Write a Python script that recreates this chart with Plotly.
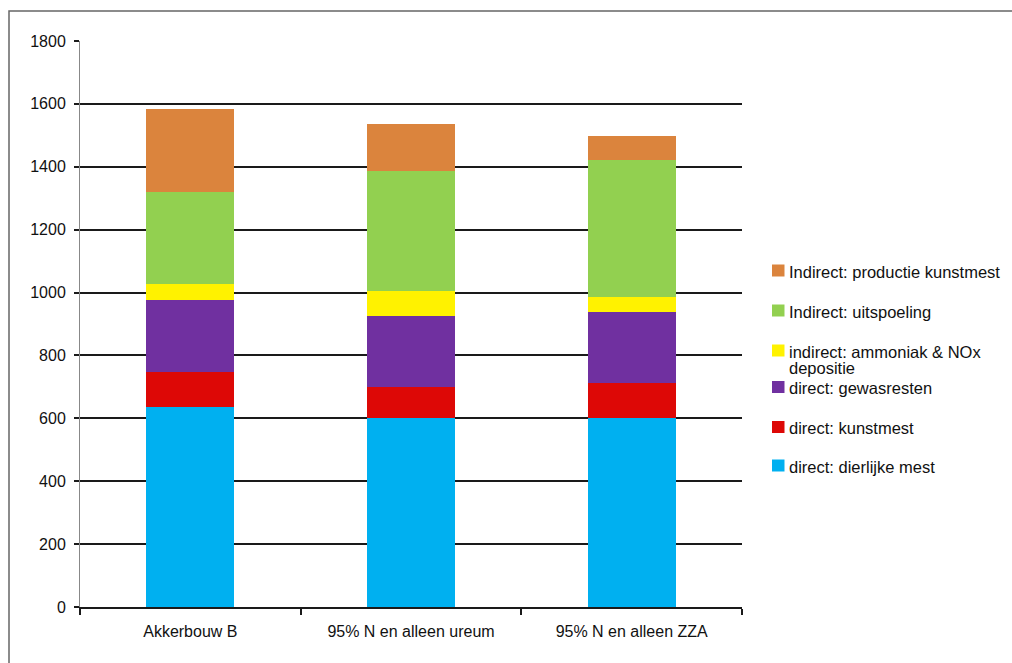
import plotly.graph_objects as go

# Scenario categories on the x axis
categories = ["Akkerbouw B", "95% N en alleen ureum", "95% N en alleen ZZA"]

# N2O emission contributions per source (stacked bottom to top)
dierlijke_mest = [635, 602, 602]
kunstmest = [113, 97, 109]
gewasresten = [228, 226, 227]
ammoniak_nox = [51, 80, 49]
uitspoeling = [294, 383, 433]
productie_kunstmest = [262, 148, 78]

series = [
    ("direct: dierlijke mest", dierlijke_mest, "#00B0F0"),
    ("direct: kunstmest", kunstmest, "#DD0806"),
    ("direct: gewasresten", gewasresten, "#7030A0"),
    ("indirect: ammoniak &amp; NOx<br>depositie", ammoniak_nox, "#FFF200"),
    ("Indirect: uitspoeling", uitspoeling, "#92D050"),
    ("Indirect: productie kunstmest", productie_kunstmest, "#DB843D"),
]

y_ticks = [0, 200, 400, 600, 800, 1000, 1200, 1400, 1600, 1800]

FONT = "Liberation Sans, Arial, Helvetica, sans-serif"
W, H = 1012, 663
L, R, T, B = 80, 270, 41, 56
plot_h = H - T - B
plot_w = W - L - R


def px_x(x):
    return (x - L) / plot_w


def px_y(y):
    return (H - B - y) / plot_h


fig = go.Figure()
for name, vals, color in series:
    fig.add_trace(go.Bar(
        x=categories, y=vals, name=name,
        marker=dict(color=color, line=dict(width=0)),
        width=0.4, showlegend=False,
    ))

# Legend key drawn at the right: top entry is the top of the stack
legend_rows_px = [270.5, 310.5, 350.5, 387, 427, 465.5]
line_step = 16.5
shapes = []
annotations = []
for slot, (name, _, color) in enumerate(reversed(series)):
    cy = legend_rows_px[slot]
    shapes.append(dict(
        type="rect", xref="paper", yref="paper",
        x0=px_x(772), x1=px_x(784.5), y0=px_y(cy + 6), y1=px_y(cy - 6),
        fillcolor=color, line=dict(width=0),
    ))
    for k, part in enumerate(name.split("<br>")):
        annotations.append(dict(
            text=part, xref="paper", yref="paper",
            x=px_x(787), y=px_y(cy + 1 + k * line_step),
            xanchor="left", yanchor="middle", showarrow=False,
            font=dict(family=FONT, size=16.5, color="#111"),
        ))

# Outer frame around the chart
shapes.append(dict(
    type="rect", xref="paper", yref="paper",
    x0=px_x(9), x1=px_x(1030), y0=px_y(680), y1=px_y(11),
    line=dict(color="#666", width=1.5), fillcolor="rgba(0,0,0,0)", layer="below",
))

fig.update_layout(
    width=W, height=H,
    margin=dict(l=L, r=R, t=T, b=B),
    barmode="stack",
    plot_bgcolor="white",
    paper_bgcolor="white",
    showlegend=False,
    font=dict(family=FONT, size=16, color="#111"),
    shapes=shapes,
    annotations=annotations,
)

fig.update_yaxes(
    range=[0, 1800],
    tickvals=y_ticks,
    showgrid=True, gridcolor="#1a1a1a", gridwidth=1.5,
    showline=True, linecolor="#888", linewidth=1,
    ticks="outside", ticklen=5, tickcolor="#1a1a1a", tickwidth=1.5,
    ticklabelstandoff=5,
    zeroline=False,
    tickfont=dict(family=FONT, size=16),
)

fig.update_xaxes(
    showline=True, linecolor="#1a1a1a", linewidth=2,
    ticks="outside", tickson="boundaries", ticklen=6, tickcolor="#1a1a1a", tickwidth=1.5,
    ticklabelstandoff=9,
    tickfont=dict(family=FONT, size=16),
)

fig.write_html("out.html")
